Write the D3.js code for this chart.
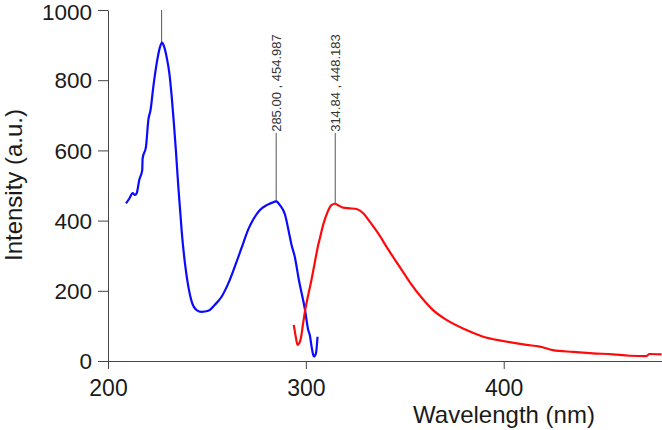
<!DOCTYPE html>
<html>
<head>
<meta charset="utf-8">
<script src="https://cdn.jsdelivr.net/npm/d3@7"></script>
<style>
  html, body { margin: 0; padding: 0; background: #fff; }
  svg { display: block; font-family: Arial, "Liberation Sans", sans-serif; }
</style>
</head>
<body>
<svg id="chart" width="662" height="430"></svg>
<script>
// Excitation (blue) spectrum
const blueWavelength = [209.1, 210.8, 212.5, 213.6, 214.5, 215.8, 217.3, 217.5, 219.2, 220.4, 221.5, 222.9, 224.6, 226.3, 227.3, 228.4, 229.6, 231.0, 232.2, 233.3, 234.3, 235.5, 236.7, 237.2, 238.9, 240.6, 242.3, 244.8, 247.3, 250.7, 254.0, 257.4, 260.8, 264.1, 267.5, 270.9, 273.4, 276.8, 280.2, 282.5, 285.0, 286.9, 289.4, 291.9, 292.8, 294.4, 296.5, 299.5, 301.2, 302.0, 302.9, 304.0, 305.1, 305.9];
const blueIntensity  = [449, 463, 478, 473, 478, 516, 544, 577, 611, 687, 715, 781, 848, 895, 907, 895, 867, 820, 753, 677, 601, 500, 411, 373, 278, 212, 169, 145, 140, 143, 160, 183, 221, 269, 322, 375, 403, 430, 444, 450, 455, 444, 418, 354, 330, 297, 230, 148, 88, 74, 41, 13, 22, 69];

// Emission (red) spectrum
const redWavelength = [293.9, 294.9, 295.8, 297.3, 298.6, 299.8, 300.3, 302.9, 305.4, 306.2, 307.1, 308.7, 311.0, 312.9, 314.8, 316.3, 318.8, 322.2, 325.6, 329.0, 332.3, 336.5, 341.6, 346.6, 350.0, 352.5, 359.2, 364.3, 371.1, 381.2, 389.6, 399.7, 411.5, 418.2, 424.9, 435.0, 445.1, 455.2, 463.6, 472.1, 473.7, 479.8];
const redIntensity  = [103, 69, 46, 60, 107, 150, 164, 233, 307, 330, 350, 387, 425, 444, 448, 444, 437, 435, 433, 421, 397, 364, 318, 275, 246, 225, 176, 145, 117, 88, 69, 57, 46, 41, 31, 26, 22, 19, 15, 14, 20, 19];

// Peak markers
const peakX      = [227.1, 285.00, 314.84];
const peakY      = [907, 454.987, 448.183];
const peakTop    = [1000, 650, 650];
const peakLabels = ["", "285.00 , 454.987", "314.84 , 448.183"];

const xTicks = [200, 300, 400];
const yTicks = [0, 200, 400, 600, 800, 1000];
const xTitle = "Wavelength (nm)";
const yTitle = "Intensity (a.u.)";

const svg = d3.select("#chart");
const x = d3.scaleLinear().domain([200, 480]).range([108, 662]);
const y = d3.scaleLinear().domain([0, 1000]).range([361, 10]);

const axisColor = "#444";

// Y axis
const gy = svg.append("g").attr("transform", "translate(108,0)")
  .call(d3.axisLeft(y).tickValues(yTicks).tickSize(10).tickSizeOuter(0).tickPadding(6).tickFormat(d3.format("d")));
gy.select(".domain").attr("stroke", axisColor);
gy.selectAll(".tick line").attr("stroke", axisColor);
gy.selectAll(".tick text").attr("font-size", 22.5).attr("fill", "#1a1a1a")
  .attr("font-family", "Arial, 'Liberation Sans', sans-serif")
  .attr("dy", d => d === 1000 ? "0.42em" : "0.34em");

// X axis
const gx = svg.append("g").attr("transform", "translate(0,361)")
  .call(d3.axisBottom(x).tickValues(xTicks).tickSize(8).tickSizeOuter(0).tickPadding(11).tickFormat(d3.format("d")));
gx.select(".domain").attr("stroke", axisColor);
gx.selectAll(".tick line").attr("stroke", axisColor);
gx.selectAll(".tick text").attr("font-size", 23).attr("fill", "#1a1a1a")
  .attr("font-family", "Arial, 'Liberation Sans', sans-serif");

// Axis titles
svg.append("text").attr("x", 504).attr("y", 423).attr("text-anchor", "middle")
  .attr("font-size", 24).attr("fill", "#1a1a1a").text(xTitle);
svg.append("text").attr("transform", "translate(22,185) rotate(-90)").attr("text-anchor", "middle")
  .attr("font-size", 24).attr("fill", "#1a1a1a").text(yTitle);

// Curves
const line = d3.line().x(d => x(d[0])).y(d => y(d[1])).curve(d3.curveMonotoneX);
const blue = blueWavelength.map((w, i) => [w, blueIntensity[i]]);
const red = redWavelength.map((w, i) => [w, redIntensity[i]]);

// Peak marker lines
peakX.forEach((px, i) => {
  svg.append("line")
    .attr("x1", x(px)).attr("x2", x(px))
    .attr("y1", y(peakY[i])).attr("y2", y(peakTop[i]))
    .attr("stroke", "#555").attr("stroke-width", 1);
  if (peakLabels[i]) {
    svg.append("text")
      .attr("transform", `translate(${x(px)},${y(peakTop[i]) - 1}) rotate(-90)`)
      .attr("text-anchor", "start").attr("dy", "0.35em")
      .attr("font-size", 13).attr("fill", "#333").text(peakLabels[i]);
  }
});

svg.append("path").datum(blue).attr("d", line)
  .attr("fill", "none").attr("stroke", "#0a0aff").attr("stroke-width", 2.2).attr("stroke-linejoin", "round");
svg.append("path").datum(red).attr("d", line)
  .attr("fill", "none").attr("stroke", "#ff0a0a").attr("stroke-width", 2.2).attr("stroke-linejoin", "round");
</script>
</body>
</html>
